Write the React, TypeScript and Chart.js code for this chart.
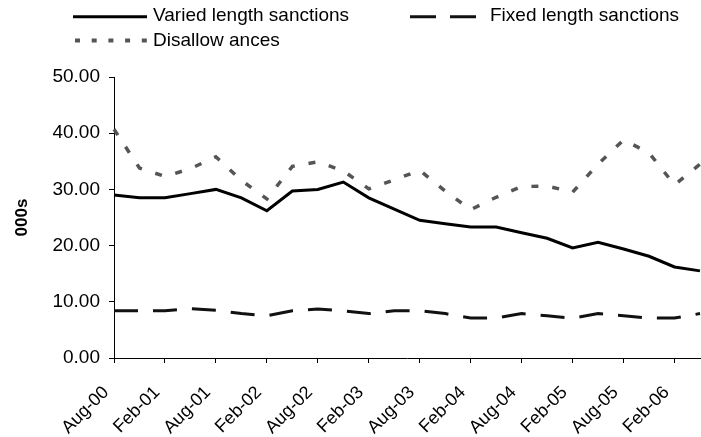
import React, { useEffect, useRef } from 'react';
import { Chart, registerables } from 'chart.js';

Chart.register(...registerables);

const FONT = "'Liberation Sans', Arial, Helvetica, sans-serif";

const categories = [
  'Aug-00', 'Nov-00', 'Feb-01', 'May-01', 'Aug-01', 'Nov-01', 'Feb-02', 'May-02',
  'Aug-02', 'Nov-02', 'Feb-03', 'May-03', 'Aug-03', 'Nov-03', 'Feb-04', 'May-04',
  'Aug-04', 'Nov-04', 'Feb-05', 'May-05', 'Aug-05', 'Nov-05', 'Feb-06', 'May-06',
];

const variedLength = [
  29.0, 28.5, 28.5, 29.25, 30.0, 28.5, 26.2, 29.7, 30.0, 31.3, 28.5, 26.5,
  24.5, 23.9, 23.3, 23.3, 22.3, 21.3, 19.6, 20.6, 19.4, 18.1, 16.2, 15.5,
];

const fixedLength = [
  8.4, 8.4, 8.4, 8.8, 8.5, 7.9, 7.5, 8.4, 8.7, 8.4, 7.9, 8.4,
  8.4, 7.9, 7.1, 7.1, 7.9, 7.5, 7.1, 7.9, 7.5, 7.1, 7.1, 7.9,
];

const disallowances = [
  40.7, 33.8, 32.3, 33.7, 35.8, 31.6, 28.3, 34.1, 34.9, 33.3, 30.1, 31.7,
  33.4, 29.7, 26.4, 28.6, 30.5, 30.6, 29.5, 34.5, 38.8, 36.5, 30.8, 34.5,
];

const seriesNames = ['Varied length sanctions', 'Fixed length sanctions', 'Disallow ances'];

const yTicks = [0, 10, 20, 30, 40, 50];

const legendPlugin = {
  id: 'customLegend',
  afterDraw(chart: any) {
    const ctx = chart.ctx as CanvasRenderingContext2D;
    const ds = chart.data.datasets;
    const items = [
      { i: 0, x0: 73, x1: 147, ly: 16.7, tx: 153, ty: 16, dash: [] as number[], w: 3 },
      { i: 1, x0: 410, x1: 477, ly: 16.7, tx: 490, ty: 16, dash: [26, 14], w: 3 },
      { i: 2, x0: 75, x1: 147, ly: 40.5, tx: 153, ty: 41, dash: [5, 11.7], w: 4 },
    ];
    ctx.save();
    for (const it of items) {
      const d = ds[it.i];
      ctx.beginPath();
      ctx.setLineDash(it.dash);
      ctx.lineDashOffset = 0;
      ctx.lineCap = 'butt';
      ctx.lineWidth = it.w;
      ctx.strokeStyle = d.borderColor;
      ctx.moveTo(it.x0, it.ly);
      ctx.lineTo(it.x1, it.ly);
      ctx.stroke();
      ctx.setLineDash([]);
      ctx.font = `19px ${FONT}`;
      ctx.textAlign = 'left';
      ctx.textBaseline = 'middle';
      ctx.fillStyle = '#000';
      ctx.fillText(d.label, it.tx, it.ty);
    }
    ctx.restore();
  },
};

export default function App() {
  const ref = useRef<HTMLCanvasElement>(null);

  useEffect(() => {
    const canvas = ref.current;
    if (!canvas) return;
    const chart = new Chart(canvas, {
      type: 'line',
      data: {
        labels: categories,
        datasets: [
          {
            label: seriesNames[0],
            data: variedLength,
            borderColor: '#000000',
            borderWidth: 3,
            pointRadius: 0,
            fill: false,
            tension: 0,
          },
          {
            label: seriesNames[1],
            data: fixedLength,
            borderColor: '#111111',
            borderWidth: 3,
            borderDash: [24, 15],
            pointRadius: 0,
            fill: false,
            tension: 0,
          },
          {
            label: seriesNames[2],
            data: disallowances,
            borderColor: '#555555',
            borderWidth: 3.5,
            borderDash: [7, 14],
            pointRadius: 0,
            fill: false,
            tension: 0,
          },
        ],
      },
      options: {
        responsive: false,
        animation: false,
        layout: { padding: { top: 77, right: 1, left: 0, bottom: 0 } },
        plugins: {
          legend: { display: false },
          tooltip: { enabled: false },
        },
        scales: {
          x: {
            type: 'category',
            offset: false,
            grid: {
              drawOnChartArea: false,
              drawTicks: true,
              tickLength: 5,
              lineWidth: 1,
              color: (c: any) => (c.index % 2 === 0 ? '#000000' : 'rgba(0,0,0,0)'),
            },
            border: { display: true, color: '#000000', width: 1 },
            ticks: {
              autoSkip: false,
              maxRotation: 45,
              minRotation: 45,
              padding: 19,
              labelOffset: -8,
              color: '#000000',
              font: { family: FONT, size: 18 },
              callback: (_v: any, i: number) => (i % 2 === 0 ? categories[i] : ''),
            },
            afterFit: (s: any) => {
              s.height = 79;
              s.paddingLeft = 0;
              s.paddingRight = 0;
            },
          },
          y: {
            min: yTicks[0],
            max: yTicks[yTicks.length - 1],
            ticks: {
              stepSize: 10,
              padding: 9,
              color: '#000000',
              font: { family: FONT, size: 19 },
              callback: (v: any) => Number(v).toFixed(2),
            },
            grid: { drawOnChartArea: false, drawTicks: true, tickLength: 5, color: '#000000' },
            border: { display: true, color: '#000000', width: 1 },
            title: {
              display: true,
              text: '000s',
              color: '#000000',
              font: { family: FONT, size: 17, weight: 'bold' },
              padding: { top: 12, bottom: 0 },
            },
            afterFit: (s: any) => {
              s.width = 114;
            },
          },
        },
      },
      plugins: [legendPlugin],
    });
    return () => chart.destroy();
  }, []);

  return (
    <div style={{ position: 'fixed', left: 0, top: 0, width: 701, height: 437, background: '#ffffff' }}>
      <canvas ref={ref} width={701} height={437} style={{ display: 'block' }} />
    </div>
  );
}
